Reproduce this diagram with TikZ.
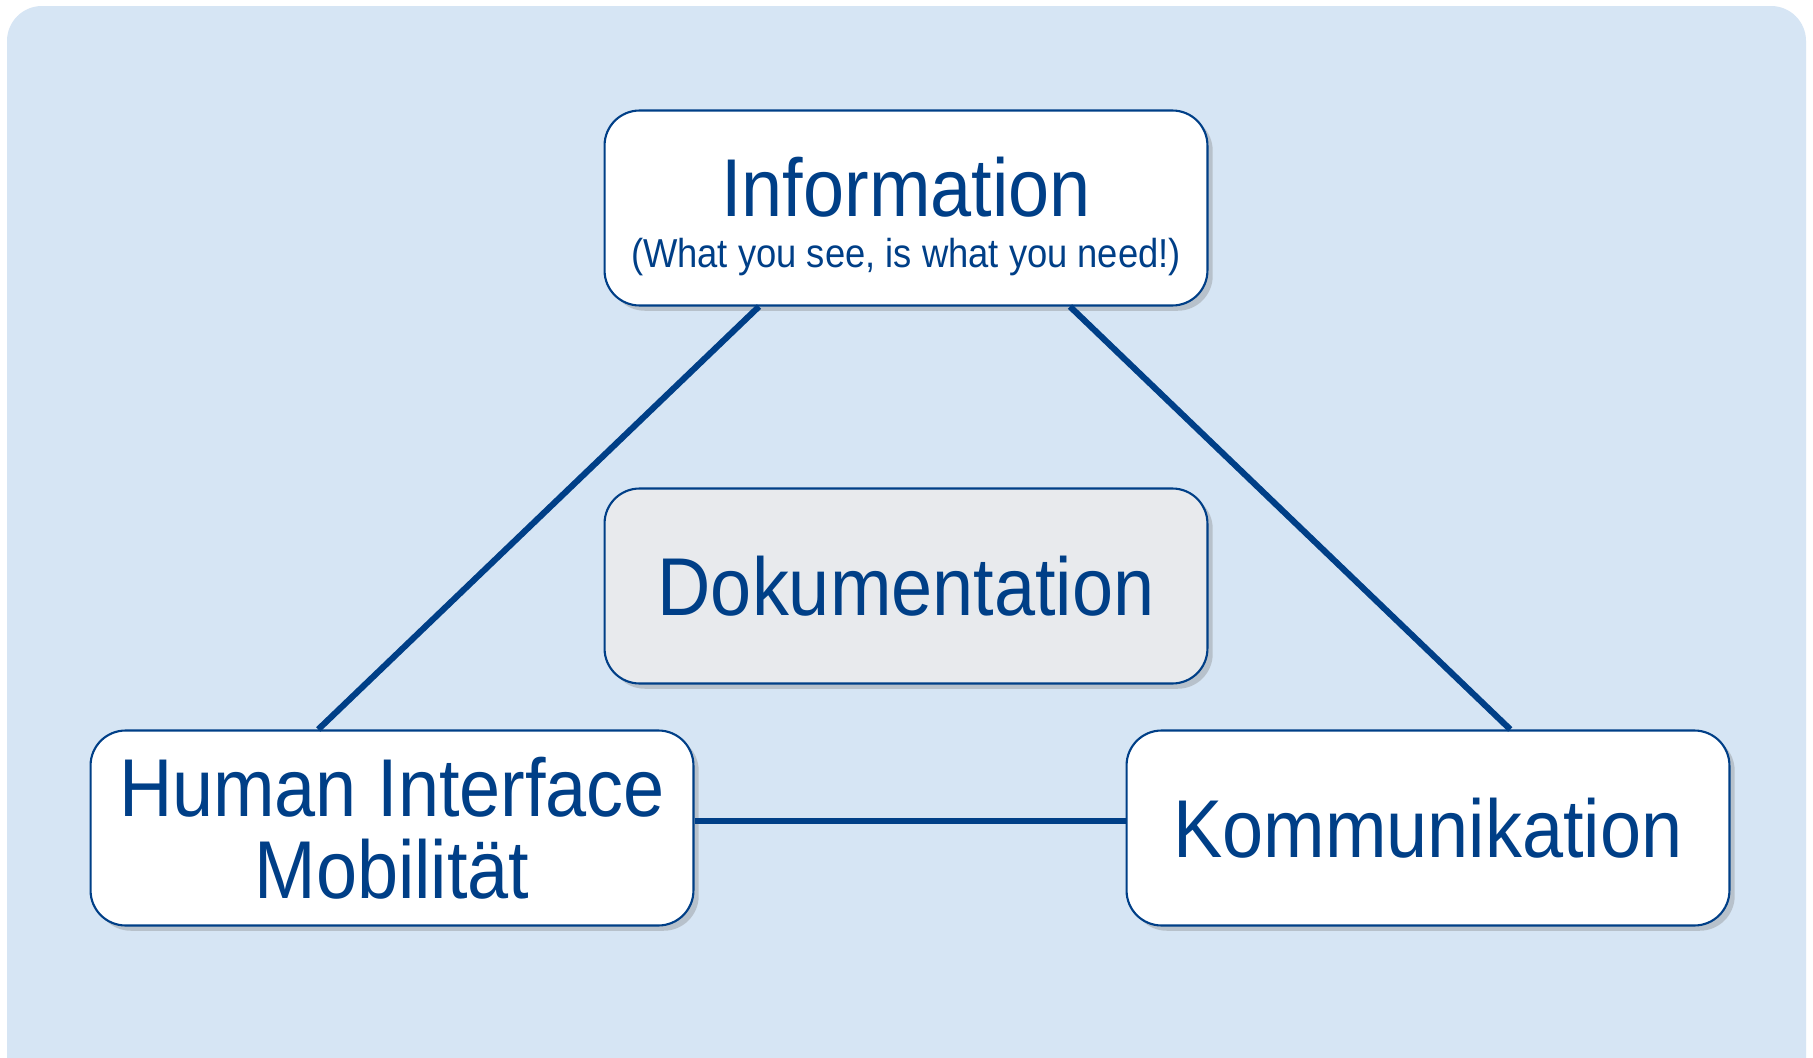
\documentclass[tikz,border=0pt]{standalone}
\usepackage{fontspec}
\newfontfamily\boxfont[FakeStretch=0.9]{Liberation Sans}
\usepackage{tikz}
\usetikzlibrary{positioning, shadows, calc}
\usepackage{xcolor}
\definecolor{triblue}{RGB}{0, 63, 135}
\definecolor{trisky}{RGB}{214, 229, 244}
\definecolor{trigray}{RGB}{232, 234, 237}
\newcommand{\topicbig}{\fontsize{46.7}{46.6}\selectfont}
\newcommand{\topicsmall}{\fontsize{23}{26}\selectfont}
\tikzstyle{topic} = [draw=triblue, line width=1.2pt, fill=white, rounded corners=0.7cm, minimum width=12.06cm, minimum height=3.9cm, inner sep=0pt, align=center, text=triblue, font=\boxfont\topicbig, drop shadow={opacity=0.35, shadow xshift=3pt, shadow yshift=-3pt}]
\tikzstyle{link} = [line width=3.5pt, triblue]

\begin{document}
\begin{tikzpicture}[x=0.02cm, y=-0.02cm]
\useasboundingbox (0,0) rectangle (1813,1058);
% background panel
\fill[white] (0,0) rectangle (1813,1058);
\begin{scope}
\clip (0,0) rectangle (1813,1058);
\fill[trisky, rounded corners=0.7cm] (7,6) rectangle (1806,1100);
\end{scope}

% the four topics
\node[topic, font=\boxfont\topicsmall] (info) at (906,208) {{\topicbig\rule{0pt}{44pt}Information}\\[3pt](What you see, is what you need!)};
\node[topic, fill=trigray] (doku) at (906,586) {Dokumentation};
\node[topic] (human) at (392,828) {Human Interface\\Mobilität};
\node[topic] (komm) at (1428,828) {Kommunikation};

% triangle
\coordinate (infoL) at ($(info.south west)!0.257!(info.south east)$);
\coordinate (infoR) at ($(info.south west)!0.771!(info.south east)$);
\coordinate (humanT) at ($(human.north west)!0.378!(human.north east)$);
\coordinate (kommT) at ($(komm.north west)!0.636!(komm.north east)$);
\draw[link] (infoL) -- (humanT);
\draw[link] (infoR) -- (kommT);
\draw[link] ([yshift=4pt]human.east) -- ([yshift=4pt]komm.west);
\end{tikzpicture}
\end{document}
